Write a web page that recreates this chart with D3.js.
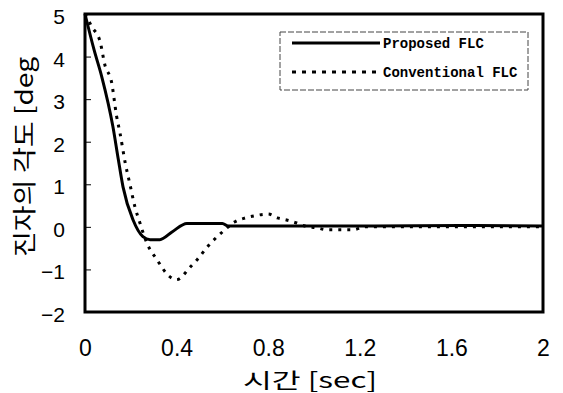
<!DOCTYPE html>
<html>
<head>
<meta charset="utf-8">
<script src="https://cdn.jsdelivr.net/npm/d3@7"></script>
<style>
  body { margin: 0; background: #fff; }
  svg { display: block; }
</style>
</head>
<body>
<svg></svg>
<script>
// 진자의 각도 응답 (deg) vs 시간 (sec)
const timeProposed = [0, 0.04, 0.073, 0.122, 0.145, 0.166, 0.21, 0.253, 0.284, 0.327, 0.38, 0.445, 0.6, 0.625, 1.2, 1.7, 2.0]
const angleProposed = [5, 4.15, 3.53, 2.35, 1.6, 0.94, 0.16, -0.23, -0.3, -0.3, -0.12, 0.08, 0.08, 0.02, 0.02, 0.03, 0.02]

const timeConventional = [0, 0.03, 0.066, 0.087, 0.116, 0.138, 0.153, 0.175, 0.197, 0.218, 0.24, 0.27, 0.314, 0.37, 0.4, 0.46, 0.49, 0.53, 0.555, 0.6, 0.655, 0.7, 0.74, 0.8, 0.84, 0.88, 0.925, 0.96, 1.01, 1.06, 1.12, 1.17, 1.22, 1.3, 2.0]
const angleConventional = [5, 4.7, 4.35, 3.8, 3.4, 2.6, 2.2, 1.52, 0.98, 0.47, 0.09, -0.38, -0.77, -1.17, -1.24, -0.94, -0.77, -0.5, -0.35, -0.12, 0.12, 0.21, 0.26, 0.3, 0.21, 0.16, 0.09, 0.02, -0.02, -0.07, -0.07, -0.07, 0, 0, 0]

const xTicks = [0, 0.4, 0.8, 1.2, 1.6, 2]
const yTicks = [-2, -1, 0, 1, 2, 3, 4, 5]
const legendLabels = ["Proposed FLC", "Conventional FLC"]

const width = 563
const height = 393
const margin = { top: 14, right: 20, bottom: 81, left: 85 }

const svg = d3.select('svg')
    .attr("width", width)
    .attr("height", height)
    .style("font-family", "'Liberation Sans', Arial, sans-serif")

const x = d3.scaleLinear()
    .domain([0, 2])
    .range([margin.left, width - margin.right])

const y = d3.scaleLinear()
    .domain([-2, 5])
    .range([height - margin.bottom, margin.top])

// assen
const yAxis = svg.append("g")
    .attr("transform", `translate(${margin.left},0)`)
    .call(d3.axisLeft(y).tickValues(yTicks).tickSize(-6).tickPadding(20).tickFormat(d3.format("d")))
yAxis.select(".domain").remove()
yAxis.selectAll("line").attr("stroke", "#000").attr("stroke-width", 1)
yAxis.selectAll("text")
    .attr("font-size", 21)
    .attr("fill", "#000")
    .attr("dy", "0.45em")

const xAxis = svg.append("g")
    .attr("transform", `translate(0,${height - margin.bottom})`)
    .call(d3.axisBottom(x).tickValues(xTicks).tickSize(0).tickPadding(28).tickFormat(d => d))
xAxis.select(".domain").remove()
xAxis.selectAll("text")
    .attr("font-size", 23)
    .attr("fill", "#000")

// lijnen
const line = d3.line()
    .x(d => x(d[0]))
    .y(d => y(d[1]))
    .curve(d3.curveMonotoneX)

svg.append("path")
    .datum(d3.zip(timeConventional, angleConventional))
    .attr("fill", "none")
    .attr("stroke", "#000")
    .attr("stroke-width", 3)
    .attr("stroke-dasharray", "3,6")
    .attr("d", line)

svg.append("path")
    .datum(d3.zip(timeProposed, angleProposed))
    .attr("fill", "none")
    .attr("stroke", "#000")
    .attr("stroke-width", 3)
    .attr("stroke-linejoin", "round")
    .attr("d", line)

// kader
svg.append("rect")
    .attr("x", margin.left)
    .attr("y", margin.top)
    .attr("width", width - margin.right - margin.left)
    .attr("height", height - margin.bottom - margin.top)
    .attr("fill", "none")
    .attr("stroke", "#000")
    .attr("stroke-width", 3)

// legenda
const legend = svg.append("g")
svg.append("rect")
    .attr("x", 280)
    .attr("y", 32)
    .attr("width", 248)
    .attr("height", 58)
    .attr("fill", "none")
    .attr("stroke", "#444")
    .attr("stroke-width", 1)
    .attr("stroke-dasharray", "6,2")

legendLabels.forEach((label, i) => {
    const ly = 43 + i * 29
    legend.append("line")
        .attr("x1", 292).attr("x2", 380)
        .attr("y1", ly).attr("y2", ly)
        .attr("stroke", "#000")
        .attr("stroke-width", 3)
        .attr("stroke-dasharray", i === 0 ? null : "4,6")
    legend.append("text")
        .attr("x", 383)
        .attr("y", ly + 5)
        .attr("font-family", "'Liberation Mono', 'DejaVu Sans Mono', monospace")
        .attr("font-weight", "bold")
        .attr("font-size", 14)
        .text(label)
})

// astitels
svg.append("text")
    .attr("x", 243)
    .attr("y", 388)
    .attr("font-size", 21)
    .attr("textLength", 134)
    .attr("lengthAdjust", "spacingAndGlyphs")
    .attr("font-family", "'Noto Sans CJK KR', 'Liberation Sans', sans-serif")
    .text("시간 [sec]")

svg.append("text")
    .attr("transform", "translate(33,257) rotate(-90)")
    .attr("font-size", 24)
    .attr("textLength", 200)
    .attr("lengthAdjust", "spacingAndGlyphs")
    .attr("font-family", "'Noto Sans CJK KR', 'Liberation Sans', sans-serif")
    .text("진자의 각도 [deg")
</script>
</body>
</html>
